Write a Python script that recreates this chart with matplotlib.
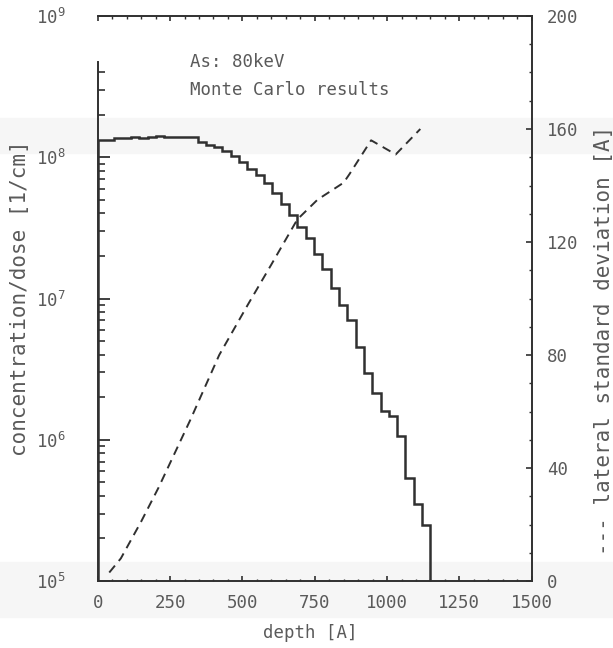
import matplotlib
matplotlib.use("Agg")
import matplotlib.pyplot as plt
import numpy as np
from matplotlib.ticker import FuncFormatter, MultipleLocator, FixedLocator, NullFormatter
from matplotlib.patches import Rectangle

# histogram of the as-implanted profile, 40 bins of 28.75 A
bin_width = 28.75
concentration = [1.32e8, 1.32e8, 1.36e8, 1.36e8, 1.40e8, 1.36e8, 1.38e8, 1.41e8,
                 1.40e8, 1.40e8, 1.40e8, 1.40e8, 1.29e8, 1.23e8, 1.18e8, 1.10e8,
                 1.02e8, 9.2e7, 8.2e7, 7.5e7, 6.6e7, 5.6e7, 4.7e7, 3.9e7,
                 3.2e7, 2.7e7, 2.05e7, 1.61e7, 1.19e7, 9.0e6, 7.0e6, 4.5e6,
                 2.98e6, 2.15e6, 1.61e6, 1.47e6, 1.06e6, 5.4e5, 3.5e5, 2.5e5]

# lateral standard deviation (right axis)
sigma_depth = [40, 80, 150, 210, 320, 420, 520, 600, 690, 760, 850, 870, 945, 1030, 1115]
sigma = [3, 8, 21, 33, 57, 80, 98, 112, 128, 135, 141, 144, 156, 151, 160]

edges = np.arange(len(concentration) + 1) * bin_width

plt.rcParams['font.family'] = ['DejaVu Sans Mono']
plt.rcParams['font.size'] = 12.5
plt.rcParams['mathtext.default'] = 'regular'

ink = '#303030'
txt = '#5a5a5a'

fig = plt.figure(figsize=(6.13, 6.48), dpi=100)
# faint scanner bands
fig.add_artist(Rectangle((0, 1 - 153 / 648), 1, 35 / 648, transform=fig.transFigure,
                         color='#f6f6f6', zorder=-10))
fig.add_artist(Rectangle((0, 1 - 617 / 648), 1, 55 / 648, transform=fig.transFigure,
                         color='#f6f6f6', zorder=-10))

ax = fig.add_axes([97.7 / 613, 67 / 648, 434 / 613, 565 / 648])
ax.set_facecolor('none')
ax2 = ax.twinx()
ax2.set_facecolor('none')

ax.stairs(concentration, edges, baseline=1e5, color=ink, lw=1.8)
ax.set_yscale('log')
ax.set_ylim(1e5, 1e9)
ax.set_xlim(0, 1500)

ax2.plot(sigma_depth, sigma, color=ink, lw=1.4, ls='--', dashes=(4.6, 3.1))
ax2.set_ylim(0, 200)

# spines
for s in ['left', 'bottom', 'top']:
    ax2.spines[s].set_visible(False)
ax.spines['right'].set_visible(False)
for s in ['left', 'bottom', 'top']:
    ax.spines[s].set_color(ink)
    ax.spines[s].set_linewidth(1.4)
ax2.spines['right'].set_color(ink)
ax2.spines['right'].set_linewidth(1.4)
ax.spines['left'].set_bounds(1e5, 4.76e8)

# x ticks
ax.xaxis.set_major_locator(MultipleLocator(250))
ax.xaxis.set_minor_locator(MultipleLocator(50))
ax.tick_params(axis='x', which='both', direction='in', top=True, color=ink,
               labelcolor=txt, pad=9)
ax.tick_params(axis='x', which='major', length=3.5, width=1.2)
ax.tick_params(axis='x', which='minor', length=1.8, width=1.0)

# left y ticks
ax.yaxis.set_major_locator(FixedLocator([1e5, 1e6, 1e7, 1e8, 1e9]))
minor = [m * 10.0 ** e for e in range(5, 8) for m in range(2, 10)] + [2e8, 3e8, 4e8]
ax.yaxis.set_minor_locator(FixedLocator(minor))
ax.yaxis.set_minor_formatter(NullFormatter())
ax.yaxis.set_major_formatter(FuncFormatter(
    lambda v, p: r'$10^{%d}$' % int(round(np.log10(v)))))
ax.tick_params(axis='y', which='both', direction='in', color=ink, labelcolor=txt, pad=23)
ax.tick_params(axis='y', which='major', length=8.5, width=1.3)
ax.tick_params(axis='y', which='minor', length=5, width=1.2)

# right y ticks
ax2.yaxis.set_major_locator(MultipleLocator(40))
ax2.yaxis.set_minor_locator(MultipleLocator(10))
ax2.tick_params(axis='y', which='both', direction='in', color=ink, labelcolor=txt, pad=11)
ax2.tick_params(axis='y', which='major', length=4, width=1.2)
ax2.tick_params(axis='y', which='minor', length=2.5, width=1.0)

# labels
fig.text(310 / 613, 1 - 633 / 648, 'depth [A]', color=txt, ha='center', va='center')
fig.text(20 / 613, 1 - 298 / 648, 'concentration/dose [1/cm]', color=txt,
         fontsize=15, rotation=90, ha='center', va='center')
fig.text(604 / 613, 1 - 340 / 648, '--- lateral standard deviation [A]', color=txt,
         fontsize=15, rotation=90, ha='center', va='center')

ax.text(0.213, 0.919, 'As: 80keV', transform=ax.transAxes, color=txt, va='center')
ax.text(0.213, 0.869, 'Monte Carlo results', transform=ax.transAxes, color=txt,
        va='center')

fig.savefig('out.png', dpi=100)
